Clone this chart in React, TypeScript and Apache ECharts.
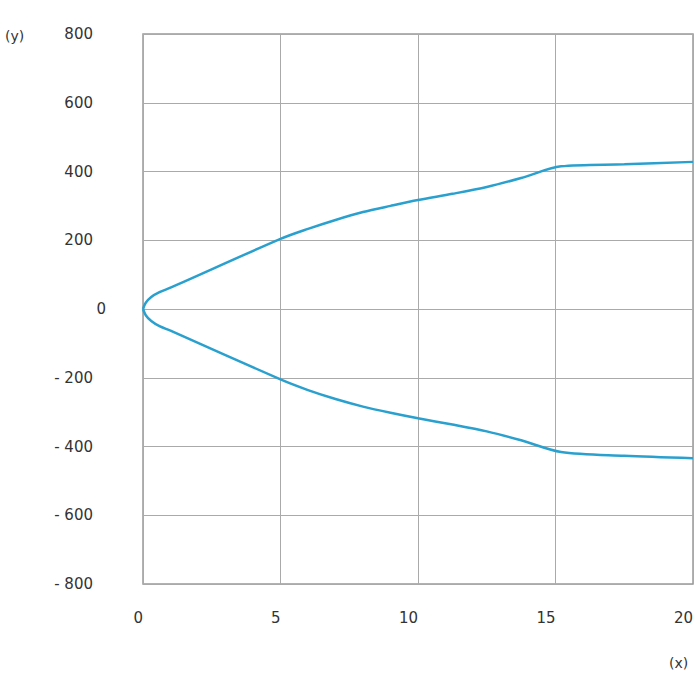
import React, { useEffect, useRef } from "react";
import * as echarts from "echarts";

const upperX = [0, 0.1, 0.3, 0.6, 1, 5, 6, 7, 8, 9, 10, 11.25, 12.5, 13.75, 15.2, 17.5, 20];
const upperY = [0, 18, 35, 49, 62, 204, 233, 259, 282, 300, 317, 335, 355, 381, 415, 421, 428];
const lowerX = [0, 0.1, 0.3, 0.6, 1, 5, 6, 7, 8, 9, 10, 11.25, 12.5, 13.75, 15.2, 17.5, 20];
const lowerY = [0, -18, -35, -50, -63, -205, -236, -262, -284, -302, -318, -336, -356, -382, -416, -427, -434];
const yTicks = [-800, -600, -400, -200, 0, 200, 400, 600, 800];
const xTicks = [0, 5, 10, 15, 20];

const LINE = "#2aa0cf";
const FONT = "DejaVu Sans, Verdana, sans-serif";

export default function App() {
  const ref = useRef<HTMLDivElement>(null);
  useEffect(() => {
    if (!ref.current) return;
    const chart = echarts.init(ref.current, null, { renderer: "svg" });
    const up = upperX.map((x, i) => [x, upperY[i]]);
    const lo = lowerX.map((x, i) => [x, lowerY[i]]);
    chart.setOption({
      animation: false,
      backgroundColor: "#ffffff",
      grid: {
        left: 143,
        right: 7,
        top: 34,
        bottom: 116,
        show: true,
        borderColor: "#999",
        borderWidth: 1.5,
      },
      xAxis: {
        type: "value",
        min: xTicks[0],
        max: xTicks[xTicks.length - 1],
        interval: 5,
        axisLine: { show: false },
        axisTick: { show: false },
        splitLine: { show: true, lineStyle: { color: "#aaa", width: 1 } },
        axisLabel: {
          color: "#333",
          fontSize: 15,
          fontFamily: FONT,
          align: "right",
          margin: 26,
          formatter: (v: number) => String(v),
        },
      },
      yAxis: {
        type: "value",
        min: yTicks[0],
        max: yTicks[yTicks.length - 1],
        interval: 200,
        axisLine: { show: false },
        axisTick: { show: false },
        splitLine: { show: true, lineStyle: { color: "#aaa", width: 1 } },
        axisLabel: {
          color: "#333",
          fontSize: 15,
          fontFamily: FONT,
          margin: 50,
          formatter: (v: number) =>
            v < 0 ? "- " + Math.abs(v) : v === 0 ? "{z|0}" : String(v),
          rich: {
            z: { fontSize: 15, fontFamily: FONT, color: "#333", padding: [0, -13, 0, 0] },
          },
        },
      },
      graphic: [
        {
          type: "text",
          left: 5,
          top: 29,
          style: { text: "(y)", fill: "#333", fontSize: 14, fontFamily: FONT },
        },
        {
          type: "text",
          left: 669,
          top: 656,
          style: { text: "(x)", fill: "#333", fontSize: 14, fontFamily: FONT },
        },
      ],
      series: [
        {
          type: "line",
          data: up,
          smooth: 0.3,
          symbol: "none",
          lineStyle: { color: LINE, width: 2.5 },
        },
        {
          type: "line",
          data: lo,
          smooth: 0.3,
          symbol: "none",
          lineStyle: { color: LINE, width: 2.5 },
        },
      ],
    });
    return () => chart.dispose();
  }, []);
  return (
    <div
      ref={ref}
      style={{ position: "absolute", left: 0, top: 0, width: 700, height: 700 }}
    />
  );
}
